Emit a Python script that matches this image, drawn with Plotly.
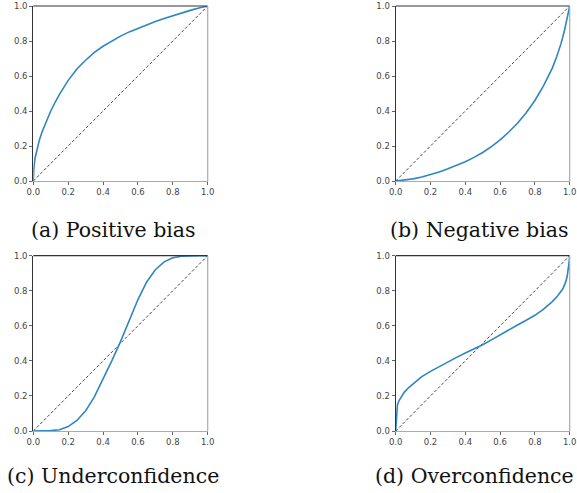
import plotly.graph_objects as go

W, H = 577, 493

# ---- data ----
diag_x = [0.0, 1.0]
diag_y = [0.0, 1.0]

pos_x = [0, 0.003, 0.01, 0.02, 0.035, 0.05, 0.075, 0.1, 0.125, 0.15, 0.2, 0.25, 0.3, 0.35, 0.4,
         0.45, 0.5, 0.55, 0.6, 0.65, 0.7, 0.75, 0.8, 0.85, 0.9, 0.95, 1.0]
pos_y = [0, 0.07, 0.13, 0.18, 0.235, 0.28, 0.345, 0.4, 0.45, 0.495, 0.575, 0.64, 0.69, 0.735, 0.77,
         0.80, 0.828, 0.852, 0.873, 0.893, 0.911, 0.928, 0.945, 0.96, 0.975, 0.989, 1.0]

neg_x = [0, 0.05, 0.1, 0.15, 0.2, 0.25, 0.3, 0.35, 0.4, 0.45, 0.5, 0.55, 0.6, 0.65, 0.7, 0.75,
         0.8, 0.85, 0.9, 0.925, 0.95, 0.97, 0.985, 0.995, 1.0]
neg_y = [0, 0.005, 0.012, 0.023, 0.037, 0.052, 0.07, 0.089, 0.11, 0.135, 0.163, 0.196, 0.235, 0.28,
         0.33, 0.39, 0.46, 0.545, 0.645, 0.71, 0.785, 0.86, 0.925, 0.97, 1.0]

und_x = [0, 0.05, 0.1, 0.15, 0.2, 0.25, 0.3, 0.35, 0.4, 0.45, 0.5, 0.55, 0.6, 0.65, 0.7, 0.75,
         0.8, 0.85, 0.9, 0.95, 1.0]
und_y = [0, 0.0, 0.002, 0.007, 0.025, 0.06, 0.115, 0.195, 0.295, 0.4, 0.51, 0.635, 0.75, 0.85,
         0.92, 0.965, 0.988, 0.997, 1.0, 1.0, 1.0]

ovr_x = [0, 0.004, 0.01, 0.02, 0.035, 0.05, 0.075, 0.1, 0.15, 0.2, 0.25, 0.3, 0.35, 0.4, 0.45,
         0.5, 0.55, 0.6, 0.65, 0.7, 0.75, 0.8, 0.85, 0.9, 0.93, 0.96, 0.975, 0.985, 0.995, 1.0]
ovr_y = [0, 0.1, 0.15, 0.175, 0.2, 0.222, 0.248, 0.27, 0.31, 0.34, 0.368, 0.395, 0.42, 0.445, 0.468,
         0.492, 0.52, 0.55, 0.577, 0.605, 0.632, 0.66, 0.695, 0.738, 0.77, 0.81, 0.845, 0.88, 0.95, 1.0]

ticks = [0.0, 0.2, 0.4, 0.6, 0.8, 1.0]
tick_text = ["0.0", "0.2", "0.4", "0.6", "0.8", "1.0"]

captions = ["(a) Positive bias", "(b) Negative bias", "(c) Underconfidence", "(d) Overconfidence"]
curves = [(pos_x, pos_y), (neg_x, neg_y), (und_x, und_y), (ovr_x, ovr_y)]

# ---- layout geometry (pixels) ----
cols = [(33.3, 207.7), (395.7, 569.7)]
rows = [(6, 181), (255.7, 431)]
cap_pos = [(113, 230), (479, 230), (113, 476), (474, 476)]

fig = go.Figure()
layout = dict(width=W, height=H, margin=dict(l=0, r=0, t=0, b=0, autoexpand=False),
              plot_bgcolor="white", paper_bgcolor="white", showlegend=False)
shapes = []
annotations = []

for i in range(4):
    r, c = divmod(i, 2)
    sfx = "" if i == 0 else str(i + 1)
    xa, ya = "x" + sfx, "y" + sfx
    x0, x1 = cols[c]
    y0, y1 = rows[r]
    layout["xaxis" + sfx] = dict(
        domain=[x0 / W, x1 / W], range=[0, 1], anchor=ya, automargin=False,
        tickvals=ticks, ticktext=tick_text, ticks="outside", ticklen=3,
        tickcolor="#666", tickfont=dict(family="DejaVu Sans", size=8.5, color="#444"),
        showgrid=False, zeroline=False, showline=True, linecolor="#aaa", linewidth=1.2,
    )
    layout["yaxis" + sfx] = dict(
        domain=[1 - y1 / H, 1 - y0 / H], range=[0, 1], anchor=xa, automargin=False,
        tickvals=ticks, ticktext=tick_text, ticks="outside", ticklen=3,
        tickcolor="#666", tickfont=dict(family="DejaVu Sans", size=8.5, color="#444"),
        showgrid=False, zeroline=False, showline=True, linecolor="#333", linewidth=1.2,
    )
    shapes.append(dict(type="line", xref=xa + " domain", yref=ya + " domain",
                       x0=0, x1=1, y0=1, y1=1, line=dict(color="#333", width=1.2)))
    shapes.append(dict(type="line", xref=xa + " domain", yref=ya + " domain",
                       x0=1, x1=1, y0=0, y1=1, line=dict(color="#aaa", width=1.2)))

    fig.add_trace(go.Scatter(x=diag_x, y=diag_y, mode="lines", xaxis=xa, yaxis=ya,
                             line=dict(color="#333", width=0.9, dash="3px,2px")))
    cx, cy = curves[i]
    fig.add_trace(go.Scatter(x=cx, y=cy, mode="lines", xaxis=xa, yaxis=ya,
                             line=dict(color="#2e86c1", width=1.6)))

    px, py = cap_pos[i]
    annotations.append(dict(text=captions[i], xref="paper", yref="paper",
                            x=px / W, y=1 - py / H, xanchor="center", yanchor="middle",
                            showarrow=False,
                            font=dict(family="DejaVu Serif", size=20.5, color="#111")))

layout["shapes"] = shapes
layout["annotations"] = annotations
fig.update_layout(**layout)
fig.write_html("out.html")
